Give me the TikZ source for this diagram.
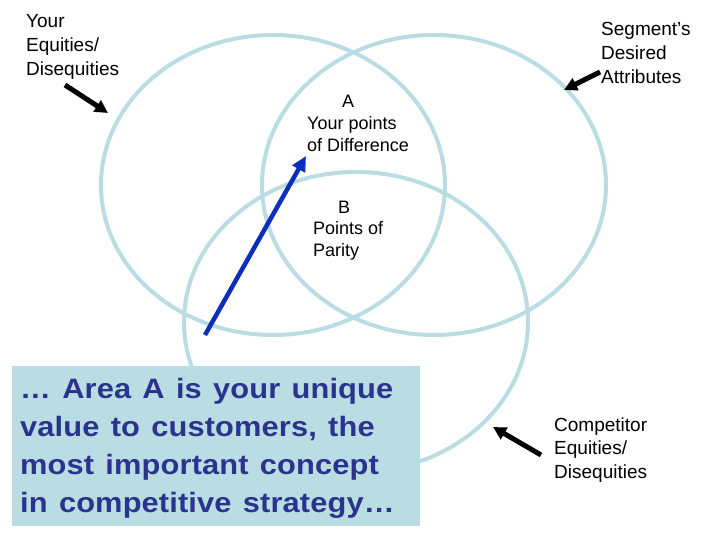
\documentclass[tikz,border=0pt]{standalone}
\usepackage{fontspec}
\setmainfont{Liberation Sans}
\newfontfamily\boxfont[FakeStretch=1.1,LetterSpace=0.5,WordSpace=1.3]{Liberation Sans}
\usetikzlibrary{arrows.meta}
\definecolor{vennc}{RGB}{185,221,226}
\definecolor{boxtext}{RGB}{42,52,142}
\definecolor{arrblue}{RGB}{12,46,190}
\tikzset{
  venn/.style={draw=vennc, line width=4pt},
  lbl/.style={inner sep=0pt, align=left, anchor=base west, font=\fontsize{19}{24}\selectfont},
  lblab/.style={inner sep=0pt, align=left, anchor=base west, font=\fontsize{18}{22}\selectfont},
  blkarrow/.style={line width=5pt, -{Triangle[length=13pt,width=13pt]}},
  bluearrow/.style={arrblue, line width=4.5pt, -{Triangle[length=15pt,width=14pt]}},
  msgbox/.style={fill=vennc, inner sep=0pt, minimum width=408pt, minimum height=160pt, anchor=north west},
  msgtext/.style={text=boxtext, inner sep=0pt, align=left, anchor=base west,
    font=\boxfont\bfseries\fontsize{28}{37.7}\selectfont}
}
\begin{document}
\begin{tikzpicture}[x=1pt,y=-1pt]
\useasboundingbox (0,0) rectangle (720,540);
% circles
\draw[venn] (273,185) ellipse [x radius=172pt, y radius=150pt];
\draw[venn] (434,185) ellipse [x radius=172pt, y radius=150pt];
\draw[venn] (356,322) ellipse [x radius=172pt, y radius=150pt];
% message box
\node[msgbox] (msg) at (12,366) {};
\node[msgtext] (msgt) at (20,512) {… Area A is your unique\\value to customers, the\\most important concept\\in competitive strategy…};
% labels
\node[lbl] (you) at (26,76) {Your\\Equities/\\Disequities};
\node[lbl] (seg) at (601,84) {Segment’s\\Desired\\Attributes};
\node[lbl, font=\fontsize{19}{23.5}\selectfont] (comp) at (554,478) {Competitor\\Equities/\\Disequities};
\node[lblab] (areaA) at (307,152) {\hspace*{35pt}A\\Your points\\of Difference};
\node[lblab, font=\fontsize{18}{21.5}\selectfont] (areaB) at (313,256) {\hspace*{25pt}B\\Points of\\Parity};
% arrows
\coordinate (t1) at (65,85);   \coordinate (h1) at (108,113);
\coordinate (t2) at (600,72);  \coordinate (h2) at (564,90);
\coordinate (t3) at (541,455); \coordinate (h3) at (493,427);
\coordinate (t4) at (205,335); \coordinate (h4) at (306,156);
\draw[blkarrow] (t1) -- (h1);
\draw[blkarrow] (t2) -- (h2);
\draw[blkarrow] (t3) -- (h3);
\draw[bluearrow] (t4) -- (h4);
\end{tikzpicture}
\end{document}
